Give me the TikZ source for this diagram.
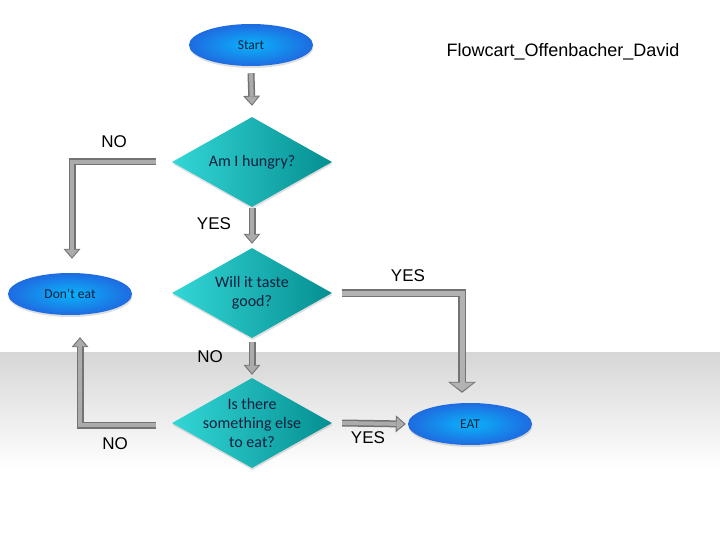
\documentclass[tikz,border=0pt]{standalone}
\usepackage{fontspec}
\setmainfont{Liberation Sans}
\newfontfamily\carl{Carlito}
\usetikzlibrary{shapes.geometric,arrows.meta,shadows}
\definecolor{dleft}{rgb}{0.20,0.84,0.84}
\definecolor{dmid}{rgb}{0.04,0.92,0.92}
\definecolor{dright}{rgb}{0.02,0.56,0.57}
\definecolor{einner}{rgb}{0.04,0.70,0.98}
\definecolor{eouter}{rgb}{0.12,0.42,0.88}
\definecolor{navy}{rgb}{0.06,0.12,0.24}
\tikzset{
  decision/.style={shape=diamond, inner sep=0pt, minimum width=160pt, minimum height=90pt,
    left color=dleft, middle color=dmid, right color=dright, draw=none,
    drop shadow={shadow xshift=0.5pt, shadow yshift=-2pt, opacity=0.25}},
  dtext/.style={font=\carl\fontsize{16}{19}\selectfont, text=navy, align=center, inner sep=0pt},
  terminal/.style={shape=ellipse, inner sep=0pt, minimum width=124pt, minimum height=42pt,
    inner color=einner, outer color=eouter, draw=none, text=navy,
    font=\carl\fontsize{13.5}{15}\selectfont,
    drop shadow={shadow xshift=0.5pt, shadow yshift=-2pt, opacity=0.25}},
  lbl/.style={font=\fontsize{17}{20}\selectfont, text=black, inner sep=0pt},
  blockarrow/.style={
    preaction={draw=black!55, line width=7pt, shorten >=0pt,
      -{Triangle[length=10pt,width=17pt,line width=0pt]}},
    draw=black!33, line width=4pt, shorten >=1.6pt,
    -{Triangle[length=7.5pt,width=12.5pt,line width=0pt]}},
  widearrow/.style={
    preaction={draw=black!55, line width=8pt, shorten >=0pt,
      -{Triangle[length=11pt,width=28pt,line width=0pt]}},
    draw=black!30, line width=5pt, shorten >=1.6pt,
    -{Triangle[length=8.5pt,width=23pt,line width=0pt]}}
}
\begin{document}
\begin{tikzpicture}[x=1pt,y=-1pt]
\useasboundingbox (0,0) rectangle (720,540);
\fill[white] (0,0) rectangle (720,540);
\shade[top color=gray!32, bottom color=white] (0,352) rectangle (720,470);

\node[lbl, font=\fontsize{18}{21}\selectfont] (title) at (563,52) {Flowcart\_Offenbacher\_David};

\node[terminal] (start) at (251,45) {Start};
\node[decision, label={[dtext]center:{Am I hungry?}}] (d1) at (252,162) {};
\node[decision, label={[dtext]center:{Will it taste\\good?}}] (d2) at (252,293) {};
\node[decision, label={[dtext]center:{Is there\\something else\\to eat?}}] (d3) at (252,423) {};
\node[terminal] (dont) at (70,294) {Don’t eat};
\node[terminal] (eat) at (470,424) {EAT};

\draw[blockarrow] ([yshift=-7pt]start.south) -- ([yshift=11pt]d1.north);
\draw[blockarrow] ([yshift=-1pt]d1.south) -- ([yshift=4pt]d2.north);
\draw[blockarrow] ([yshift=-4pt]d2.south) -- ([yshift=3pt]d3.north);
\draw[blockarrow] ([xshift=-16pt]d1.west) -| ([xshift=2pt,yshift=14pt]dont.north);
\draw[blockarrow] ([xshift=-16pt,yshift=-2pt]d3.west) -| ([xshift=10pt,yshift=-22pt]dont.south);
\draw[widearrow] ([xshift=10pt]d2.east) -| ([xshift=-8pt,yshift=10pt]eat.north);
\draw[blockarrow] ([xshift=10pt]d3.east) -- ([xshift=-2pt]eat.west);

\node[lbl] (nolbl1) at (114,142) {NO};
\node[lbl] (yeslbl1) at (214,224) {YES};
\node[lbl] (yeslbl2) at (408,276) {YES};
\node[lbl] (nolbl2) at (210,357) {NO};
\node[lbl] (nolbl3) at (115,444) {NO};
\node[lbl] (yeslbl3) at (368,438) {YES};
\end{tikzpicture}
\end{document}
